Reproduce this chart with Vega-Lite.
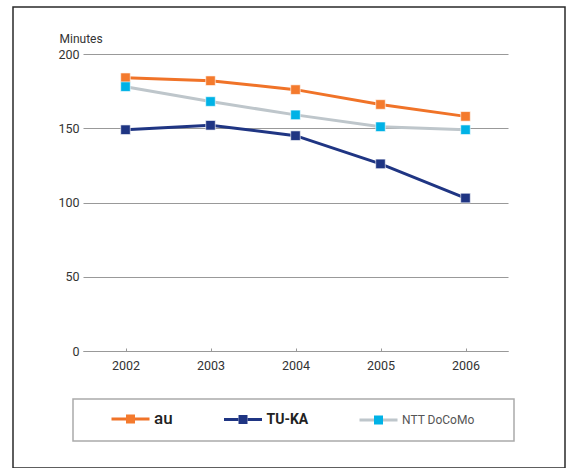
{
  "$schema": "https://vega.github.io/schema/vega-lite/v6.json",
  "autosize": "none",
  "padding": {"left": 13, "top": 7, "right": 10, "bottom": 0},
  "width": 552,
  "height": 461,
  "background": "white",
  "config": {
    "view": {"stroke": "#2a2a2a", "strokeWidth": 1.5},
    "font": "Roboto"
  },
  "data": {
    "values": [
      {"year": "2002", "series": "au", "minutes": 184},
      {"year": "2003", "series": "au", "minutes": 182},
      {"year": "2004", "series": "au", "minutes": 176},
      {"year": "2005", "series": "au", "minutes": 166},
      {"year": "2006", "series": "au", "minutes": 158},
      {"year": "2002", "series": "TU-KA", "minutes": 149},
      {"year": "2003", "series": "TU-KA", "minutes": 152},
      {"year": "2004", "series": "TU-KA", "minutes": 145},
      {"year": "2005", "series": "TU-KA", "minutes": 126},
      {"year": "2006", "series": "TU-KA", "minutes": 103},
      {"year": "2002", "series": "NTT DoCoMo", "minutes": 178},
      {"year": "2003", "series": "NTT DoCoMo", "minutes": 168},
      {"year": "2004", "series": "NTT DoCoMo", "minutes": 159},
      {"year": "2005", "series": "NTT DoCoMo", "minutes": 151},
      {"year": "2006", "series": "NTT DoCoMo", "minutes": 149}
    ]
  },
  "encoding": {
    "x": {
      "field": "year",
      "type": "ordinal",
      "scale": {"type": "point", "range": [70, 495], "padding": 0.5},
      "axis": {
        "orient": "bottom",
        "offset": -117,
        "title": null,
        "labelAngle": 0,
        "domainColor": "#999999",
        "domainWidth": 1.2,
        "ticks": true,
        "tickSize": -3,
        "tickColor": "#999999",
        "tickWidth": 1,
        "labelPadding": 11,
        "labelFontSize": 12.5,
        "labelColor": "#333333",
        "grid": false
      }
    },
    "y": {
      "field": "minutes",
      "type": "quantitative",
      "scale": {"domain": [0, 200], "range": [344, 47], "nice": false, "zero": true},
      "axis": {
        "orient": "left",
        "offset": -70,
        "values": [0, 50, 100, 150, 200],
        "domain": false,
        "ticks": false,
        "grid": true,
        "gridColor": "#999999",
        "gridWidth": 1.2,
        "labelPadding": 4,
        "labelFontSize": 12.5,
        "labelColor": "#333333",
        "title": "Minutes",
        "titleAngle": 0,
        "titleAlign": "left",
        "titleBaseline": "alphabetic",
        "titleX": -24,
        "titleY": 35.5,
        "titleFontSize": 12,
        "titleFontWeight": "normal",
        "titleColor": "#333333"
      }
    }
  },
  "layer": [
    {
      "mark": {"type": "line", "strokeWidth": 3},
      "encoding": {
        "stroke": {
          "field": "series",
          "type": "nominal",
          "sort": ["au", "TU-KA", "NTT DoCoMo"],
          "scale": {"range": ["#F07328", "#1F3583", "#BEC6CB"]},
          "legend": {
            "orient": "none",
            "legendX": 60,
            "legendY": 392,
            "direction": "horizontal",
            "columns": 3,
            "title": null,
            "padding": 14,
            "strokeColor": "#aaaaaa",
            "symbolType": "M-19,0H19H4.5V-4.5H-4.5V4.5H4.5V0Z",
            "symbolSize": 4,
            "symbolStrokeWidth": 3,
            "symbolOpacity": 1,
            "symbolOffset": 37.5,
            "columnPadding": 26.5,
            "labelOffset": 17.5,
            "encode": {
              "legend": {"update": {"strokeWidth": {"value": 1.5}}},
              "symbols": {
                "update": {
                  "shape": {"signal": "datum.value === 'NTT DoCoMo' ? 'M-19,0H19H4.5V-4.5H-4.5V4.5H4.5V0ZM120,0' : 'M-19,0H19H4.5V-4.5H-4.5V4.5H4.5V0Z'"},
                  "fill": {"signal": "datum.value === 'au' ? '#F47A2D' : datum.value === 'TU-KA' ? '#1F3583' : '#00B2E6'"},
                  "strokeWidth": {"value": 3},
                  "strokeDash": {"value": [14.5, 9, 14.5, 1000]},
                  "strokeCap": {"value": "butt"},
                  "strokeJoin": {"value": "bevel"}
                }
              },
              "labels": {
                "update": {
                  "fontSize": {"signal": "datum.value === 'au' ? 17 : datum.value === 'TU-KA' ? 14 : 12"},
                  "fontWeight": {"signal": "datum.value === 'TU-KA' ? 'bold' : datum.value === 'au' ? 500 : 'normal'"},
                  "fill": {"signal": "datum.value === 'NTT DoCoMo' ? '#555555' : '#222222'"}
                }
              }
            }
          }
        }
      }
    },
    {
      "mark": {"type": "point", "shape": "square", "filled": true, "size": 92, "opacity": 1, "stroke": "white", "strokeWidth": 0.6},
      "encoding": {
        "fill": {
          "field": "series",
          "type": "nominal",
          "scale": {"domain": ["au", "TU-KA", "NTT DoCoMo"], "range": ["#F47A2D", "#1F3583", "#00B2E6"]},
          "legend": null
        }
      }
    }
  ]
}
